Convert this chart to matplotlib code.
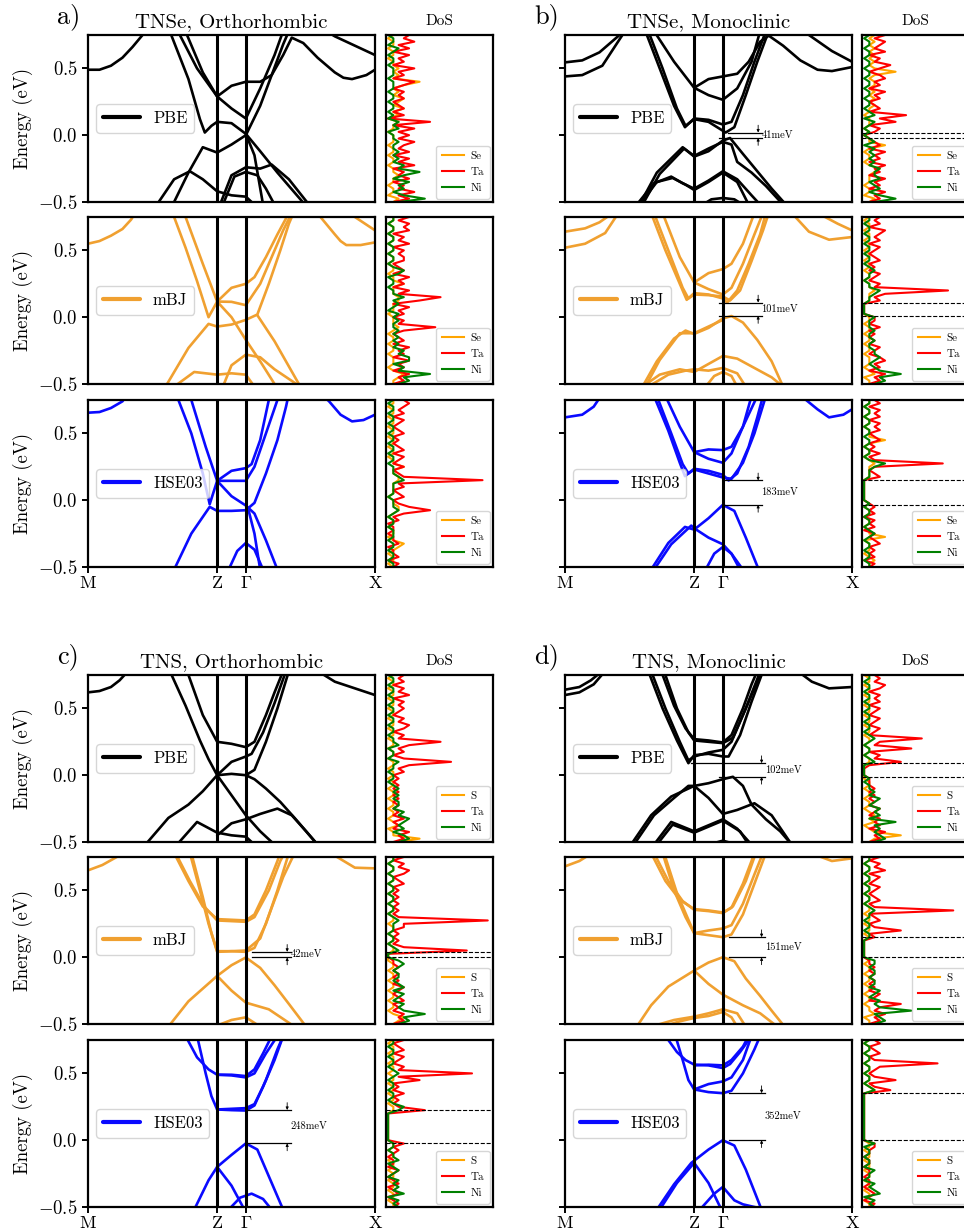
import numpy as np
import matplotlib
matplotlib.use('Agg')
import matplotlib.pyplot as plt

plt.rcParams['font.family'] = 'serif'
plt.rcParams['font.serif'] = ['cmr10']
plt.rcParams['mathtext.fontset'] = 'cm'
plt.rcParams['axes.formatter.use_mathtext'] = True
plt.rcParams['axes.linewidth'] = 1.6

# ---------------- k-path ----------------
kpath_pos = [0.0, 0.45, 0.55, 1.0]
kpath_lab = ['M', 'Z', r'$\mathrm{\Gamma}$', 'X']
methods = ['PBE', 'mBJ', 'HSE03']
method_colors = ['black', '#f0a030', '#0a0aff']

# ---------------- bands (k, E) ----------------
bands_a_pbe = [
 [(0,0.49),(0.04,0.49),(0.08,0.52),(0.12,0.58),(0.155,0.66),(0.19,0.75),(0.22,0.83)],
 [(0.27,0.85),(0.29,0.75),(0.35,0.42),(0.39,0.12),(0.407,0.02),(0.43,0.07),(0.45,0.10),(0.50,0.09),(0.55,0.01),(0.60,-0.12),(0.66,-0.28),(0.72,-0.43),(0.76,-0.53)],
 [(0.32,0.85),(0.345,0.75),(0.40,0.47),(0.45,0.29),(0.50,0.37),(0.55,0.40),(0.60,0.40),(0.64,0.45),(0.68,0.60),(0.71,0.73),(0.75,0.69),(0.80,0.58),(0.86,0.47),(0.89,0.43),(0.92,0.42),(0.97,0.45),(1.0,0.49)],
 [(0.30,0.85),(0.32,0.75),(0.38,0.50),(0.45,0.29),(0.50,0.20),(0.55,0.125),(0.60,0.35),(0.65,0.60),(0.68,0.78)],
 [(0.30,-0.50),(0.35,-0.28),(0.40,-0.09),(0.45,-0.13),(0.50,-0.07),(0.55,0.0),(0.60,0.22),(0.64,0.45),(0.68,0.68),(0.70,0.78)],
 [(0.24,-0.52),(0.30,-0.33),(0.355,-0.27),(0.40,-0.33),(0.45,-0.42),(0.50,-0.45),(0.55,-0.46),(0.58,-0.52)],
 [(0.46,-0.52),(0.50,-0.30),(0.55,-0.24),(0.60,-0.25),(0.64,-0.22),(0.70,-0.33),(0.77,-0.52)],
 [(0.47,-0.52),(0.51,-0.31),(0.55,-0.275),(0.59,-0.30),(0.62,-0.40),(0.65,-0.52)],
 [(0.55,0.01),(0.58,-0.15),(0.61,-0.52)],
 [(0.83,0.78),(0.86,0.74),(0.90,0.70),(0.95,0.65),(1.0,0.60)],
]
bands_a_mbj = [
 [(0,0.55),(0.04,0.57),(0.08,0.61),(0.12,0.66),(0.15,0.73),(0.17,0.80)],
 [(0.28,0.80),(0.30,0.75),(0.34,0.52),(0.38,0.27),(0.42,0.0),(0.45,0.117),(0.50,0.22),(0.55,0.25),(0.58,0.30),(0.62,0.45),(0.66,0.62),(0.70,0.78)],
 [(0.32,0.80),(0.34,0.75),(0.40,0.40),(0.45,0.117),(0.50,0.115),(0.55,0.09),(0.60,0.25),(0.64,0.45),(0.68,0.65),(0.71,0.78)],
 [(0.45,0.117),(0.50,0.0),(0.55,-0.17),(0.60,-0.33),(0.65,-0.50),(0.66,-0.53)],
 [(0.27,-0.52),(0.35,-0.23),(0.42,-0.05),(0.45,-0.07),(0.50,-0.055),(0.55,-0.02),(0.59,0.02),(0.63,0.25),(0.67,0.50),(0.70,0.70),(0.72,0.80)],
 [(0.59,0.015),(0.65,-0.18),(0.74,-0.52)],
 [(0.47,-0.52),(0.50,-0.36),(0.55,-0.28),(0.60,-0.30),(0.65,-0.39),(0.74,-0.52)],
 [(0.30,-0.52),(0.37,-0.41),(0.45,-0.43),(0.50,-0.42),(0.55,-0.43),(0.58,-0.52)],
 [(0.79,0.78),(0.81,0.75),(0.86,0.62),(0.88,0.57),(0.90,0.54),(0.95,0.54),(1.0,0.56)],
 [(0.91,0.78),(0.93,0.75),(1.0,0.65)],
]
bands_a_hse = [
 [(0,0.655),(0.04,0.66),(0.08,0.69),(0.12,0.74),(0.14,0.80)],
 [(0.30,0.80),(0.315,0.75),(0.36,0.50),(0.40,0.20),(0.424,-0.03),(0.45,0.145),(0.50,0.22),(0.55,0.24),(0.57,0.27),(0.60,0.45),(0.63,0.75),(0.64,0.80)],
 [(0.345,0.80),(0.36,0.75),(0.41,0.40),(0.45,0.145),(0.50,0.145),(0.55,0.145),(0.58,0.25),(0.62,0.50),(0.66,0.75),(0.67,0.80)],
 [(0.45,0.145),(0.50,0.03),(0.55,-0.04),(0.58,-0.10),(0.62,-0.30),(0.66,-0.52)],
 [(0.30,-0.52),(0.36,-0.25),(0.424,-0.05),(0.45,-0.08),(0.50,-0.08),(0.55,-0.075),(0.58,-0.02),(0.62,0.20),(0.66,0.45),(0.69,0.70),(0.70,0.80)],
 [(0.56,-0.08),(0.58,-0.25),(0.60,-0.52)],
 [(0.49,-0.52),(0.52,-0.38),(0.55,-0.32),(0.58,-0.37),(0.61,-0.52)],
 [(0.82,0.78),(0.84,0.74),(0.88,0.64),(0.92,0.59),(0.96,0.60),(1.0,0.64)],
]
bands_b_pbe = [
 [(0,0.545),(0.06,0.56),(0.12,0.62),(0.19,0.75),(0.21,0.80)],
 [(0,0.44),(0.06,0.45),(0.13,0.52),(0.20,0.75),(0.22,0.82)],
 [(0.28,0.78),(0.33,0.50),(0.38,0.22),(0.418,0.06),(0.45,0.125),(0.50,0.115),(0.55,0.08),(0.58,0.10),(0.62,0.30),(0.66,0.55),(0.70,0.78)],
 [(0.29,0.78),(0.34,0.50),(0.39,0.20),(0.42,0.07),(0.45,0.12),(0.50,0.10),(0.56,0.02),(0.59,0.06),(0.63,0.30),(0.67,0.55),(0.71,0.78)],
 [(0.31,0.78),(0.38,0.55),(0.45,0.355),(0.50,0.42),(0.55,0.44),(0.60,0.46),(0.64,0.55),(0.68,0.70),(0.71,0.745),(0.76,0.67),(0.82,0.56),(0.88,0.49),(0.93,0.48),(1.0,0.51)],
 [(0.45,0.355),(0.50,0.30),(0.55,0.265),(0.60,0.35),(0.65,0.55),(0.68,0.78)],
 [(0.26,-0.52),(0.32,-0.28),(0.41,-0.09),(0.45,-0.16),(0.50,-0.12),(0.55,-0.04),(0.575,-0.021),(0.62,-0.14),(0.67,-0.27),(0.72,-0.40),(0.77,-0.52)],
 [(0.27,-0.52),(0.33,-0.29),(0.415,-0.10),(0.45,-0.155),(0.50,-0.10),(0.55,-0.05),(0.58,-0.07),(0.60,-0.20),(0.65,-0.28),(0.70,-0.38),(0.76,-0.52)],
 [(0.25,-0.52),(0.31,-0.36),(0.37,-0.31),(0.41,-0.36),(0.45,-0.40),(0.50,-0.34),(0.55,-0.27),(0.60,-0.33),(0.65,-0.45),(0.68,-0.52)],
 [(0.26,-0.52),(0.32,-0.35),(0.375,-0.32),(0.42,-0.37),(0.45,-0.41),(0.50,-0.35),(0.55,-0.28),(0.60,-0.35),(0.64,-0.52)],
 [(0.48,-0.52),(0.51,-0.48),(0.55,-0.47),(0.59,-0.48),(0.62,-0.52)],
 [(0.83,0.78),(0.87,0.72),(0.93,0.63),(1.0,0.55)],
]
bands_b_mbj = [
 [(0,0.64),(0.07,0.665),(0.12,0.71),(0.16,0.77)],
 [(0,0.52),(0.07,0.55),(0.14,0.63),(0.18,0.76)],
 [(0.30,0.78),(0.35,0.50),(0.40,0.25),(0.424,0.13),(0.45,0.18),(0.50,0.17),(0.55,0.14),(0.565,0.11),(0.60,0.20),(0.64,0.40),(0.68,0.62),(0.70,0.78)],
 [(0.31,0.78),(0.36,0.50),(0.41,0.22),(0.43,0.14),(0.45,0.17),(0.50,0.165),(0.55,0.155),(0.575,0.125),(0.61,0.20),(0.65,0.42),(0.69,0.65),(0.71,0.78)],
 [(0.34,0.78),(0.40,0.45),(0.45,0.26),(0.50,0.33),(0.55,0.36),(0.58,0.40),(0.62,0.55),(0.66,0.78)],
 [(0.45,0.26),(0.50,0.21),(0.55,0.17),(0.58,0.22),(0.62,0.40),(0.66,0.62),(0.69,0.78)],
 [(0.27,-0.52),(0.32,-0.33),(0.38,-0.16),(0.42,-0.10),(0.45,-0.125),(0.50,-0.08),(0.55,-0.01),(0.58,0.009),(0.62,-0.04),(0.67,-0.17),(0.72,-0.33),(0.76,-0.52)],
 [(0.28,-0.52),(0.33,-0.32),(0.40,-0.12),(0.45,-0.12),(0.50,-0.07),(0.55,-0.02)],
 [(0.27,-0.52),(0.33,-0.43),(0.40,-0.39),(0.45,-0.41),(0.50,-0.35),(0.55,-0.29),(0.60,-0.31),(0.66,-0.38),(0.72,-0.45),(0.76,-0.52)],
 [(0.29,-0.52),(0.36,-0.43),(0.42,-0.40),(0.45,-0.39),(0.50,-0.40),(0.55,-0.38),(0.60,-0.42),(0.63,-0.52)],
 [(0.49,-0.52),(0.52,-0.44),(0.55,-0.41),(0.58,-0.44),(0.60,-0.52)],
 [(0.79,0.78),(0.85,0.64),(0.92,0.58),(1.0,0.60)],
 [(0.88,0.78),(0.95,0.70),(1.0,0.65)],
]
bands_b_hse = [
 [(0,0.62),(0.06,0.64),(0.10,0.70),(0.125,0.78)],
 [(0.31,0.78),(0.36,0.52),(0.40,0.28),(0.418,0.18),(0.45,0.235),(0.50,0.22),(0.55,0.19),(0.57,0.148),(0.60,0.20),(0.64,0.40),(0.67,0.62),(0.69,0.78)],
 [(0.32,0.78),(0.37,0.50),(0.41,0.27),(0.43,0.20),(0.45,0.23),(0.50,0.20),(0.55,0.17),(0.58,0.16),(0.62,0.28),(0.66,0.50),(0.70,0.78)],
 [(0.35,0.78),(0.40,0.55),(0.45,0.36),(0.50,0.38),(0.55,0.375),(0.58,0.40),(0.62,0.55),(0.67,0.78)],
 [(0.45,0.36),(0.50,0.31),(0.55,0.28),(0.58,0.35),(0.62,0.55),(0.65,0.78)],
 [(0.30,-0.52),(0.36,-0.32),(0.418,-0.20),(0.45,-0.22),(0.50,-0.135),(0.55,-0.035),(0.59,-0.08),(0.63,-0.28),(0.675,-0.52)],
 [(0.31,-0.52),(0.37,-0.33),(0.44,-0.19),(0.45,-0.21),(0.50,-0.28),(0.55,-0.33),(0.58,-0.40),(0.62,-0.52)],
 [(0.49,-0.52),(0.52,-0.40),(0.55,-0.35),(0.58,-0.40),(0.61,-0.52)],
 [(0.82,0.78),(0.84,0.75),(0.88,0.68),(0.92,0.62),(0.97,0.64),(1.0,0.68)],
]
bands_c_pbe = [
 [(0,0.62),(0.04,0.63),(0.08,0.66),(0.11,0.71),(0.14,0.78)],
 [(0.285,0.78),(0.34,0.52),(0.39,0.26),(0.42,0.12),(0.45,0.0),(0.50,0.01),(0.55,0.0),(0.58,0.04),(0.62,0.25),(0.66,0.50),(0.70,0.78)],
 [(0.20,-0.52),(0.28,-0.32),(0.35,-0.22),(0.40,-0.12),(0.45,0.0),(0.50,0.10),(0.55,0.14),(0.57,0.16),(0.61,0.32),(0.65,0.54),(0.69,0.78)],
 [(0.345,0.78),(0.40,0.45),(0.45,0.25),(0.50,0.235),(0.55,0.21),(0.58,0.25),(0.62,0.45),(0.65,0.62),(0.68,0.78)],
 [(0.45,0.0),(0.50,-0.15),(0.55,-0.30),(0.60,-0.42),(0.65,-0.52)],
 [(0.55,0.0),(0.58,-0.03),(0.62,-0.10),(0.67,-0.20),(0.72,-0.32),(0.76,-0.42),(0.80,-0.52)],
 [(0.45,-0.45),(0.50,-0.36),(0.55,-0.33),(0.60,-0.29),(0.66,-0.25),(0.71,-0.30),(0.76,-0.42),(0.80,-0.52)],
 [(0.31,-0.52),(0.38,-0.35),(0.45,-0.43),(0.50,-0.45),(0.55,-0.46),(0.58,-0.52)],
 [(0.80,0.78),(0.86,0.70),(0.93,0.65),(1.0,0.60)],
]
bands_c_mbj = [
 [(0,0.65),(0.05,0.69),(0.10,0.75),(0.12,0.79)],
 [(0.30,0.78),(0.35,0.57),(0.40,0.38),(0.45,0.285),(0.50,0.28),(0.55,0.275),(0.58,0.32),(0.62,0.50),(0.66,0.72),(0.67,0.78)],
 [(0.305,0.78),(0.355,0.57),(0.405,0.38),(0.45,0.275),(0.50,0.27),(0.55,0.265),(0.58,0.30),(0.63,0.50),(0.67,0.72),(0.685,0.78)],
 [(0.355,0.78),(0.39,0.50),(0.42,0.25),(0.45,0.045),(0.50,0.045),(0.55,0.04),(0.58,0.07),(0.62,0.25),(0.66,0.50),(0.70,0.78)],
 [(0.36,0.78),(0.40,0.45),(0.43,0.18),(0.45,0.04),(0.50,0.045),(0.55,0.05),(0.60,0.14),(0.64,0.37),(0.68,0.60),(0.72,0.78)],
 [(0.28,-0.52),(0.35,-0.33),(0.45,-0.14),(0.50,-0.06),(0.55,-0.002),(0.60,-0.08),(0.65,-0.21),(0.70,-0.35),(0.76,-0.52)],
 [(0.45,-0.14),(0.50,-0.25),(0.55,-0.34),(0.63,-0.39),(0.72,-0.52)],
 [(0.44,-0.52),(0.50,-0.47),(0.55,-0.45),(0.60,-0.52)],
 [(0.85,0.78),(0.86,0.76),(0.93,0.67),(1.0,0.665)],
]
bands_c_hse = [
 [(0.34,0.78),(0.38,0.62),(0.42,0.53),(0.45,0.49),(0.50,0.49),(0.55,0.48),(0.58,0.53),(0.61,0.65),(0.64,0.78)],
 [(0.45,0.49),(0.50,0.485),(0.55,0.47),(0.58,0.50),(0.62,0.65),(0.66,0.78)],
 [(0.38,0.78),(0.41,0.50),(0.43,0.33),(0.45,0.23),(0.50,0.225),(0.55,0.222),(0.58,0.26),(0.62,0.45),(0.66,0.68),(0.68,0.78)],
 [(0.45,0.23),(0.50,0.235),(0.55,0.24),(0.58,0.27),(0.61,0.40),(0.65,0.60),(0.68,0.78)],
 [(0.37,-0.52),(0.42,-0.30),(0.45,-0.20),(0.50,-0.11),(0.55,-0.024),(0.59,-0.07),(0.63,-0.27),(0.68,-0.52)],
 [(0.45,-0.20),(0.50,-0.34),(0.545,-0.52)],
 [(0.49,-0.52),(0.53,-0.43),(0.57,-0.40),(0.61,-0.44),(0.64,-0.52)],
]
bands_d_pbe = [
 [(0,0.64),(0.05,0.66),(0.09,0.71),(0.13,0.78)],
 [(0,0.60),(0.05,0.62),(0.10,0.68),(0.14,0.78)],
 [(0.29,0.78),(0.34,0.50),(0.39,0.26),(0.43,0.09),(0.45,0.15),(0.50,0.16),(0.55,0.14),(0.57,0.14),(0.61,0.30),(0.65,0.55),(0.69,0.78)],
 [(0.30,0.78),(0.35,0.50),(0.40,0.25),(0.43,0.11),(0.45,0.14),(0.50,0.17),(0.55,0.19),(0.58,0.25),(0.62,0.45),(0.66,0.65),(0.69,0.78)],
 [(0.335,0.78),(0.38,0.52),(0.42,0.35),(0.45,0.27),(0.50,0.26),(0.55,0.245),(0.58,0.30),(0.62,0.50),(0.65,0.68),(0.67,0.78)],
 [(0.345,0.78),(0.39,0.50),(0.43,0.32),(0.45,0.26),(0.50,0.25),(0.55,0.24),(0.585,0.28),(0.63,0.50),(0.67,0.72),(0.68,0.78)],
 [(0.23,-0.52),(0.30,-0.30),(0.37,-0.16),(0.45,-0.08),(0.50,-0.06),(0.55,-0.03),(0.585,-0.012),(0.62,-0.08),(0.65,-0.22),(0.70,-0.33),(0.75,-0.42),(0.79,-0.52)],
 [(0.24,-0.52),(0.31,-0.30),(0.38,-0.17),(0.43,-0.08),(0.45,-0.08),(0.50,-0.17),(0.55,-0.29),(0.60,-0.26),(0.66,-0.21),(0.72,-0.30),(0.79,-0.52)],
 [(0.31,-0.52),(0.37,-0.35),(0.45,-0.42),(0.55,-0.33),(0.60,-0.40),(0.65,-0.52)],
 [(0.32,-0.52),(0.375,-0.37),(0.45,-0.43),(0.55,-0.34),(0.61,-0.42),(0.64,-0.52)],
 [(0.50,-0.52),(0.55,-0.49),(0.60,-0.52)],
 [(0.81,0.78),(0.86,0.70),(0.92,0.65),(1.0,0.66)],
]
bands_d_mbj = [
 [(0,0.68),(0.05,0.72),(0.08,0.76),(0.09,0.79)],
 [(0.30,0.78),(0.35,0.57),(0.40,0.43),(0.45,0.36),(0.50,0.35),(0.55,0.335),(0.58,0.37),(0.62,0.55),(0.65,0.72),(0.66,0.78)],
 [(0.31,0.78),(0.36,0.57),(0.41,0.42),(0.45,0.355),(0.50,0.345),(0.55,0.33),(0.585,0.38),(0.63,0.57),(0.66,0.75),(0.67,0.78)],
 [(0.34,0.78),(0.38,0.50),(0.42,0.30),(0.45,0.18),(0.50,0.20),(0.55,0.215),(0.58,0.24),(0.62,0.40),(0.66,0.62),(0.69,0.78)],
 [(0.345,0.78),(0.39,0.48),(0.43,0.28),(0.45,0.18),(0.50,0.165),(0.55,0.15),(0.58,0.17),(0.62,0.32),(0.66,0.55),(0.70,0.78)],
 [(0.25,-0.52),(0.30,-0.36),(0.36,-0.22),(0.45,-0.10),(0.50,-0.04),(0.55,0.0),(0.59,-0.03),(0.63,-0.16),(0.68,-0.29),(0.72,-0.40),(0.765,-0.52)],
 [(0.45,-0.10),(0.50,-0.20),(0.55,-0.28),(0.62,-0.36),(0.68,-0.42),(0.74,-0.52)],
 [(0.30,-0.52),(0.38,-0.47),(0.45,-0.445),(0.50,-0.42),(0.55,-0.39),(0.60,-0.42),(0.63,-0.52)],
 [(0.34,-0.52),(0.40,-0.48),(0.45,-0.455),(0.50,-0.44),(0.55,-0.41),(0.58,-0.45),(0.60,-0.52)],
 [(0.87,0.78),(0.88,0.76),(0.93,0.72),(1.0,0.74)],
]
bands_d_hse = [
 [(0.35,0.78),(0.39,0.66),(0.42,0.60),(0.45,0.566),(0.50,0.56),(0.55,0.54),(0.575,0.57),(0.61,0.66),(0.65,0.78)],
 [(0.45,0.56),(0.50,0.565),(0.55,0.56),(0.58,0.60),(0.62,0.70),(0.64,0.78)],
 [(0.385,0.78),(0.41,0.60),(0.43,0.45),(0.45,0.38),(0.50,0.36),(0.55,0.352),(0.58,0.37),(0.62,0.50),(0.66,0.68),(0.68,0.78)],
 [(0.45,0.38),(0.50,0.42),(0.55,0.44),(0.58,0.47),(0.62,0.60),(0.65,0.78)],
 [(0.32,-0.52),(0.38,-0.33),(0.44,-0.17),(0.50,-0.07),(0.55,0.0),(0.59,-0.04),(0.63,-0.22),(0.685,-0.52)],
 [(0.33,-0.52),(0.39,-0.32),(0.45,-0.17)],
 [(0.45,-0.17),(0.50,-0.32),(0.545,-0.52)],
 [(0.47,-0.52),(0.52,-0.40),(0.55,-0.35),(0.59,-0.45),(0.62,-0.48),(0.66,-0.50),(0.70,-0.52)],
]

# ---------------- band gaps: (CBM, VBM, label, k_start_cbm, k_start_vbm, k_end) ----------------
gaps_a = [None, None, None]
gaps_b = [(0.02, -0.021, '41meV', 0.569, 0.537, 0.685),
          (0.11, 0.009, '101meV', 0.537, 0.537, 0.685),
          (0.148, -0.035, '183meV', 0.557, 0.557, 0.685)]
gaps_c = [None,
          (0.04, -0.002, '42meV', 0.57, 0.57, 0.706),
          (0.226, -0.024, '248meV', 0.557, 0.557, 0.706)]
gaps_d = [(0.09, -0.012, '102meV', 0.44, 0.537, 0.697),
          (0.15, -0.001, '151meV', 0.57, 0.57, 0.697),
          (0.352, 0.0, '352meV', 0.57, 0.57, 0.697)]

# ---------------- DoS (energy grid -0.5..0.75 step 0.025; arbitrary units) ----------------
dos_energy = np.linspace(-0.5, 0.75, 51)
dos_a_pbe = dict(
 Ta=[1,4,2,5,2,3,1,4,2,3,1,5,2,4,1,4,2,3,5,2, 4,2,5,1,8,0,3,1,3,2, 1,3,2,3,1,3,5,1,3,2, 5,1,3,2,4,1,4,2,5,3,4],
 Ni=[2,7,3,1,3,2,4,1,3,6,2,3,1,2,1,2,1,1,2,1, 1,0,2,1,2,0,1,0,1,1, 0,1,1,0,1,1,1,0,1,1, 1,0,1,1,0,1,2,0,1,1,0],
 X=[1,2,0,1,1,0,1,1,2,1,1,0,1,1,0,1,1,0,1,1, 1,0,1,1,2,0,2,1,3,1, 2,3,1,2,1,3,6,1,2,1, 2,1,1,0,1,1,0,1,1,0,1])
dos_a_mbj = dict(
 Ta=[1,3,2,4,1,3,2,4,1,3,2,4,1,3,2,1,3,9,2,3, 1,3,2,4,1,6,10,2,4,1, 3,2,4,1,3,2,1,3,3,2, 3,1,4,2,3,1,4,3,4,2,4],
 Ni=[2,4,3,8,2,3,1,4,4,2,3,1,2,1,2,1,2,1,1,2, 1,2,0,1,2,1,3,1,1,0, 1,1,0,2,3,1,0,1,1,0, 1,1,0,1,1,0,1,1,0,1,1],
 X=[1,1,2,3,1,0,1,1,1,0,1,1,0,1,1,0,1,2,1,1, 1,0,1,1,1,2,2,1,1,1, 3,1,1,0,1,1,0,1,1,0, 1,1,0,1,1,0,1,1,0,1,1])
dos_a_hse = dict(
 Ta=[1,2,0,2,1,1,0,2,1,1,0,1,1,0,2,1,3,8,4,2, 1,3,2,1,3,2,18,3,2,1, 3,1,2,3,1,3,2,1,2,1, 3,2,1,2,3,1,3,2,3,4,3],
 Ni=[1,1,0,1,1,0,1,1,0,1,1,1,0,1,1,0,1,2,1,1, 1,0,1,1,1,1,3,2,1,1, 1,0,1,1,0,1,1,0,1,1, 0,1,1,0,1,1,0,1,1,0,1],
 X=[1,0,1,1,0,1,2,3,1,0,1,1,0,1,1,0,1,2,2,1, 1,0,1,1,1,1,2,2,1,1, 3,1,1,0,1,1,0,1,1,0, 1,1,0,1,1,0,1,1,0,1,1])
dos_b_pbe = dict(
 Ta=[1,3,2,4,1,3,2,4,1,3,2,4,1,3,2,4,1,3,2,1, 0,2,3,1,6,3,8,1,3,2, 1,3,2,4,1,3,2,4,3,1, 3,5,2,3,1,4,2,3,4,2,4],
 Ni=[2,6,3,1,3,2,1,3,2,2,3,1,2,1,2,1,2,0,2,1, 0,1,0,1,2,0,2,1,0,1, 1,0,1,1,0,1,1,0,1,1, 0,1,1,0,1,1,0,1,1,0,1],
 X=[1,2,0,1,1,0,1,1,1,2,3,1,0,1,1,0,1,4,1,1, 0,1,0,1,1,1,0,1,1,2, 1,2,1,2,1,2,2,1,2,6, 2,1,2,1,2,1,2,1,2,1,2])
dos_b_mbj = dict(
 Ta=[1,3,2,4,1,3,2,4,3,1,2,3,1,2,1,2,1,3,1,2, 2,0,0,0,0,3,2,4,16,2, 3,1,2,3,1,2,1,3,2,1, 2,3,1,3,2,3,4,1,3,2,3],
 Ni=[2,4,3,7,3,2,1,2,3,2,2,1,1,2,1,1,2,1,1,1, 2,0,0,0,0,1,1,2,3,1, 1,0,1,1,2,1,0,1,1,0, 1,1,0,1,1,0,1,1,0,1,1],
 X=[1,1,0,2,1,0,1,1,1,0,1,1,0,1,1,0,1,1,0,1, 1,0,0,0,0,1,1,1,2,1, 1,0,1,1,0,1,1,0,1,1, 0,1,1,0,1,1,0,1,1,0,1])
dos_b_hse = dict(
 Ta=[1,2,0,2,1,2,1,3,2,1,2,0,2,1,2,0,2,1,2,1, 0,0,0,0,0,0,0,3,2,1, 2,15,2,1,3,1,2,1,3,2, 1,3,2,3,1,3,2,3,1,3,2],
 Ni=[1,1,0,1,1,0,1,1,0,1,2,1,0,1,1,0,1,1,0,1, 0,0,0,0,0,0,0,1,1,1, 2,4,1,0,1,1,0,1,1,0, 1,1,0,1,1,0,1,1,0,1,1],
 X=[1,1,2,1,0,1,1,1,0,4,1,1,0,1,1,0,1,1,0,1, 0,0,0,0,0,0,0,1,1,1, 1,2,1,0,1,1,0,1,4,1, 1,1,0,1,1,0,1,1,0,1,1])
dos_c_pbe = dict(
 Ta=[1,3,2,4,1,2,1,3,1,2,1,2,1,2,1,2,1,2,1,2, 1,3,2,4,12,3,1,3,2,4, 10,2,3,1,3,4,2,3,1,2, 3,2,3,1,4,2,3,1,3,2,3],
 Ni=[2,4,3,1,3,2,3,4,2,3,1,2,2,1,2,1,2,1,0,1, 1,0,1,1,2,0,1,1,0,2, 1,1,0,1,1,0,1,1,0,1, 1,0,1,1,0,1,1,0,1,1,0],
 X=[2,6,1,1,0,2,1,0,1,1,0,1,1,0,1,1,0,1,1,0, 1,1,0,1,1,0,1,1,0,1, 1,0,1,1,0,1,1,0,1,1, 0,1,1,0,1,1,0,1,1,0,1])
dos_c_mbj = dict(
 Ta=[1,3,2,3,1,2,1,3,2,1,2,3,1,2,1,2,1,2,1,1, 0,0,15,3,1,2,1,2,1,3, 3,19,2,1,2,1,2,1,2,1, 2,1,3,2,1,3,4,2,3,1,3],
 Ni=[2,4,3,7,3,2,3,1,2,3,1,3,2,1,2,2,1,2,3,2, 0,0,2,1,0,1,1,0,1,1, 1,2,1,0,1,1,0,1,1,0, 1,1,0,1,1,0,1,1,0,1,1],
 X=[1,2,3,1,0,1,1,0,1,1,0,1,1,0,1,1,0,1,1,0, 0,0,1,1,0,1,1,0,1,1, 0,1,1,0,1,1,0,1,1,0, 1,1,0,1,1,0,1,1,0,1,1])
dos_c_hse = dict(
 Ta=[1,2,1,0,2,1,0,2,1,0,1,2,0,1,1,0,1,2,1,3, 0,0,0,0,0,0,0,0,0,7, 2,1,2,1,3,1,2,1,6,2, 16,2,3,1,2,3,1,3,2,1,3],
 Ni=[2,1,2,0,3,1,2,1,2,0,1,2,1,0,2,1,1,0,1,1, 0,0,0,0,0,0,0,0,0,2, 3,1,0,1,1,0,1,1,0,1, 2,1,0,1,1,0,1,1,0,1,1],
 X=[1,1,0,1,1,0,1,1,0,1,1,0,1,1,0,1,1,0,1,1, 0,0,0,0,0,0,0,0,0,1, 1,0,1,1,0,1,1,0,1,1, 0,1,1,0,1,1,0,1,1,0,1])
dos_d_pbe = dict(
 Ta=[1,3,2,4,1,3,2,3,1,2,3,1,2,1,2,1,2,1,1,1, 0,0,0,1,7,2,3,1,9,2, 3,11,1,2,3,1,2,3,1,2, 3,1,3,2,3,1,3,4,2,3,2],
 Ni=[2,4,3,2,3,2,6,1,3,2,3,1,2,3,1,2,1,1,0,1, 0,0,0,0,2,1,0,1,1,0, 1,2,1,0,1,1,0,1,1,0, 1,1,0,1,1,0,1,1,0,1,1],
 X=[1,2,7,2,1,0,2,1,2,1,0,1,1,0,1,1,0,1,1,0, 0,0,0,0,1,1,0,1,1,0, 1,1,0,1,1,0,1,1,0,1, 1,0,1,1,0,1,1,0,1,1,0])
dos_d_mbj = dict(
 Ta=[1,3,2,4,2,3,7,1,2,3,1,2,1,2,1,2,1,2,1,1, 0,0,0,0,0,0,2,1,7,2, 1,3,2,1,17,2,1,3,2,1, 2,3,1,2,3,1,4,2,3,1,3],
 Ni=[2,4,3,2,9,3,2,3,1,2,3,1,2,2,1,2,2,1,2,2, 0,0,0,0,0,0,1,1,0,1, 1,0,1,1,2,1,0,1,1,0, 1,1,0,1,1,0,1,1,0,1,1],
 X=[1,1,0,2,1,1,0,1,1,0,1,1,0,1,1,0,1,1,0,1, 0,0,0,0,0,0,1,0,1,1, 0,1,1,0,1,1,0,1,1,0, 1,1,0,1,1,0,1,1,0,1,1])
dos_d_hse = dict(
 Ta=[1,2,0,1,2,1,0,1,1,0,1,1,0,1,1,0,1,1,2,2, 0,0,0,0,0,0,0,0,0,0, 0,0,0,0,0,5,2,1,6,2, 1,2,3,14,2,1,3,2,1,3,2],
 Ni=[2,1,2,0,3,2,1,2,0,1,1,2,0,1,1,0,1,1,0,2, 0,0,0,0,0,0,0,0,0,0, 0,0,0,0,0,2,1,0,1,1, 0,1,1,0,1,1,0,1,1,0,1],
 X=[1,1,0,1,1,0,1,1,0,1,1,0,1,1,0,1,1,0,1,1, 0,0,0,0,0,0,0,0,0,0, 0,0,0,0,0,2,1,0,1,1, 0,1,1,0,1,1,0,1,1,0,1])

panel_tags = ['a)', 'b)', 'c)', 'd)']
panel_titles = ['TNSe, Orthorhombic', 'TNSe, Monoclinic', 'TNS, Orthorhombic', 'TNS, Monoclinic']
panel_chalcogen = ['Se', 'Se', 'S', 'S']
panel_bands = [[bands_a_pbe, bands_a_mbj, bands_a_hse], [bands_b_pbe, bands_b_mbj, bands_b_hse],
               [bands_c_pbe, bands_c_mbj, bands_c_hse], [bands_d_pbe, bands_d_mbj, bands_d_hse]]
panel_dos = [[dos_a_pbe, dos_a_mbj, dos_a_hse], [dos_b_pbe, dos_b_mbj, dos_b_hse],
             [dos_c_pbe, dos_c_mbj, dos_c_hse], [dos_d_pbe, dos_d_mbj, dos_d_hse]]
panel_gaps = [gaps_a, gaps_b, gaps_c, gaps_d]

# ---------------- layout (pixels) ----------------
W, H = 964, 1229
fig = plt.figure(figsize=(W / 100, H / 100), dpi=100)

def add_ax(x, y, w, h):
    return fig.add_axes([x / W, 1 - (y + h) / H, w / W, h / H])

band_x = [88, 565, 88, 565]
dos_x = [386, 862, 386, 862]
group_y = [35, 35, 675, 675]
row_off = [0, 182, 365]
BW, DW, RH = 287, 107, 167

for p in range(4):
    for r in range(3):
        ytop = group_y[p] + row_off[r]
        ax = add_ax(band_x[p], ytop, BW, RH)
        col = method_colors[r]
        for i, band in enumerate(panel_bands[p][r]):
            ks = [q[0] for q in band]
            es = [q[1] for q in band]
            ax.plot(ks, es, color=col, lw=1.9, label=methods[r] if i == 0 else None,
                    solid_capstyle='round', solid_joinstyle='round')
        for kv in kpath_pos[1:3]:
            ax.axvline(kv, color='black', lw=2.2)
        ax.set_xlim(0, 1)
        ax.set_ylim(-0.5, 0.75)
        ax.set_yticks([-0.5, 0.0, 0.5])
        ax.tick_params(labelsize=13.5, width=1.4, length=4)
        if p % 2 == 0:
            ax.set_ylabel('Energy (eV)', fontsize=13.5)
        else:
            ax.set_yticklabels([])
        if r == 2:
            ax.set_xticks(kpath_pos)
            ax.set_xticklabels(kpath_lab, fontsize=13)
            ax.tick_params(axis='x', pad=2)
        else:
            ax.set_xticks([])
        leg = ax.legend(loc='center left', fontsize=12, handlelength=2.2)
        for lh in leg.get_lines():
            lh.set_linewidth(3)
        if r == 0:
            ax.set_title(panel_titles[p], fontsize=15, pad=6)
            ax.text(-0.108, 1.03, panel_tags[p], transform=ax.transAxes, fontsize=19,
                    ha='left', va='bottom')

        gap = panel_gaps[p][r]
        if gap is not None:
            cbm, vbm, lab, kc, kvb, ke = gap
            ax.plot([kc, ke], [cbm, cbm], color='black', lw=0.9)
            ax.plot([kvb, ke], [vbm, vbm], color='black', lw=0.9)
            ax.annotate('', xy=(ke - 0.012, cbm), xytext=(ke - 0.012, cbm + 0.055),
                        arrowprops=dict(arrowstyle='-|>', lw=0.6, color='black',
                                        mutation_scale=4, shrinkA=0, shrinkB=0))
            ax.annotate('', xy=(ke - 0.012, vbm), xytext=(ke - 0.012, vbm - 0.055),
                        arrowprops=dict(arrowstyle='-|>', lw=0.6, color='black',
                                        mutation_scale=4, shrinkA=0, shrinkB=0))
            ax.text(ke, (cbm + vbm) / 2, lab, fontsize=7.5, ha='left', va='center')

        # DoS
        axd = add_ax(dos_x[p], ytop, DW, RH)
        d = panel_dos[p][r]
        lx, = axd.plot(d['X'], dos_energy, color='orange', lw=1.5)
        lt, = axd.plot(d['Ta'], dos_energy, color='red', lw=1.5)
        ln, = axd.plot(d['Ni'], dos_energy, color='green', lw=1.5)
        axd.set_xlim(-0.4, 20)
        axd.set_ylim(-0.5, 0.75)
        axd.set_xticks([])
        axd.set_yticks([])
        if gap is not None:
            axd.axhline(cbm, color='black', ls='--', lw=0.8)
            axd.axhline(vbm, color='black', ls='--', lw=0.8)
        axd.legend([lx, lt, ln], [panel_chalcogen[p], 'Ta', 'Ni'], loc='lower right',
                   fontsize=8, handlelength=2.0, handletextpad=0.6, borderaxespad=0.3,
                   labelspacing=0.55, borderpad=0.5)
        if r == 0:
            axd.set_title('DoS', fontsize=11, pad=7)

fig.savefig('out.png', dpi=100)
